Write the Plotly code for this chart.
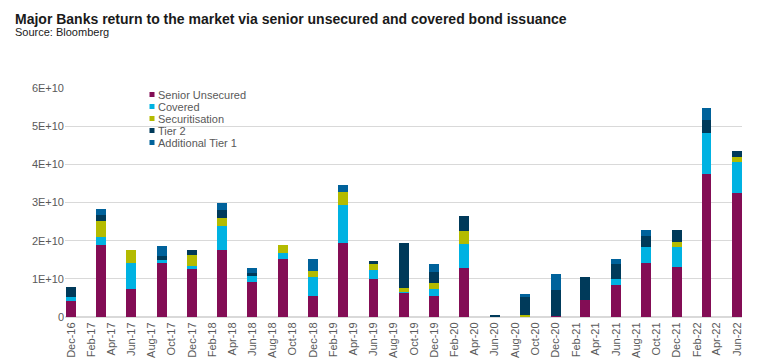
import plotly.graph_objects as go

quarters = ["2016-12-01","2017-03-01","2017-06-01","2017-09-01","2017-12-01","2018-03-01",
            "2018-06-01","2018-09-01","2018-12-01","2019-03-01","2019-06-01","2019-09-01",
            "2019-12-01","2020-03-01","2020-06-01","2020-09-01","2020-12-01","2021-03-01",
            "2021-06-01","2021-09-01","2021-12-01","2022-03-01","2022-06-01"]

# values in billions
senior_unsecured = [4.2, 18.9, 7.3, 14.2, 12.8, 17.6, 9.2, 15.2, 5.5, 19.4, 10.0, 6.3,
                    5.5, 12.8, 0, 0, 0.3, 4.5, 8.4, 14.2, 13.1, 37.5, 32.5]
covered = [1.0, 2.1, 6.8, 0.8, 0.5, 6.3, 1.6, 1.6, 5.0, 10.0, 2.4, 0.3,
           1.8, 6.3, 0, 0, 0, 0, 1.6, 4.2, 5.2, 10.7, 8.1]
securitisation = [0, 4.2, 3.4, 0, 2.9, 2.1, 0, 2.1, 1.6, 3.4, 1.6, 1.0,
                  1.6, 3.4, 0, 0.5, 0, 0, 0, 0, 1.3, 0, 1.3]
tier2 = [2.6, 1.6, 0, 1.1, 1.3, 2.1, 0.8, 0, 0, 0, 0.8, 11.8,
         2.9, 3.9, 0.3, 5.0, 6.8, 6.0, 3.9, 2.9, 3.1, 3.4, 1.6]
additional_tier1 = [0, 1.6, 0, 2.6, 0, 1.8, 1.3, 0, 3.1, 1.8, 0, 0,
                    2.1, 0, 0, 0.5, 4.2, 0, 1.3, 1.6, 0, 3.1, 0]

y_tick_vals = [0, 1e10, 2e10, 3e10, 4e10, 5e10, 6e10]
y_tick_text = ["0", "1E+10", "2E+10", "3E+10", "4E+10", "5E+10", "6E+10"]

series_names = ["Senior Unsecured", "Covered", "Securitisation", "Tier 2", "Additional Tier 1"]
series_values = [senior_unsecured, covered, securitisation, tier2, additional_tier1]
series_colors = ["#830D55", "#00B2E2", "#B4BB00", "#003A5A", "#00629B"]

FONT = "Arial, Liberation Sans, sans-serif"
W, H = 782, 360
L, R, T, B = 57, 48, 80, 51
PW, PH = W - L - R, H - T - B


def px_x(px):
    return (px - L) / PW


def px_y(py):
    return (H - B - py) / PH


fig = go.Figure()
for name, vals, color in zip(series_names, series_values, series_colors):
    fig.add_trace(go.Bar(
        x=quarters, y=[v * 1e9 for v in vals], name=name,
        marker=dict(color=color, line=dict(width=0)),
        width=30 * 86400000, showlegend=False,
    ))

annotations = [
    dict(text="<b>Major Banks return to the market via senior unsecured and covered bond issuance</b>",
         x=px_x(5), y=px_y(11), xref="paper", yref="paper", xanchor="left", yanchor="middle",
         showarrow=False, font=dict(family=FONT, size=14, color="#1a1a1a")),
    dict(text="Source: Bloomberg",
         x=px_x(5), y=px_y(24), xref="paper", yref="paper", xanchor="left", yanchor="middle",
         showarrow=False, font=dict(family=FONT, size=11, color="#1a1a1a")),
]
shapes = []
# legend (drawn as key squares and labels)
for i, (name, color) in enumerate(zip(series_names, series_colors)):
    cy = 86.5 + 12 * i
    shapes.append(dict(type="rect", xref="paper", yref="paper",
                       x0=px_x(141.5), x1=px_x(146.5), y0=px_y(cy + 2.5), y1=px_y(cy - 2.5),
                       fillcolor=color, line=dict(width=0)))
    annotations.append(dict(text=name, x=px_x(147.5), y=px_y(cy), xref="paper", yref="paper",
                            xanchor="left", yanchor="middle", showarrow=False,
                            font=dict(family=FONT, size=11, color="#595959")))

fig.update_layout(
    barmode="stack",
    width=W, height=H,
    margin=dict(l=L, r=R, t=T, b=B, autoexpand=False),
    paper_bgcolor="white", plot_bgcolor="white",
    font=dict(family=FONT, size=11, color="#595959"),
    showlegend=False,
    bargap=0,
    annotations=annotations,
    shapes=shapes,
)
fig.update_xaxes(
    type="date",
    range=["2016-11-13", "2022-06-16"],
    tick0="2016-12-01", dtick="M2", tickformat="%b-%y",
    tickangle=-90, showgrid=False, ticks="", automargin=False,
    showline=True, linecolor="#d9d9d9", linewidth=1,
    tickfont=dict(size=11, color="#595959"),
)
fig.update_yaxes(
    range=[0, 6e10], tickvals=y_tick_vals, ticktext=y_tick_text,
    showgrid=True, gridcolor="#d9d9d9", gridwidth=1, automargin=False,
    zeroline=True, zerolinecolor="#d9d9d9", ticks="",
    tickfont=dict(size=11, color="#595959"),
)

fig.write_html("out.html")
